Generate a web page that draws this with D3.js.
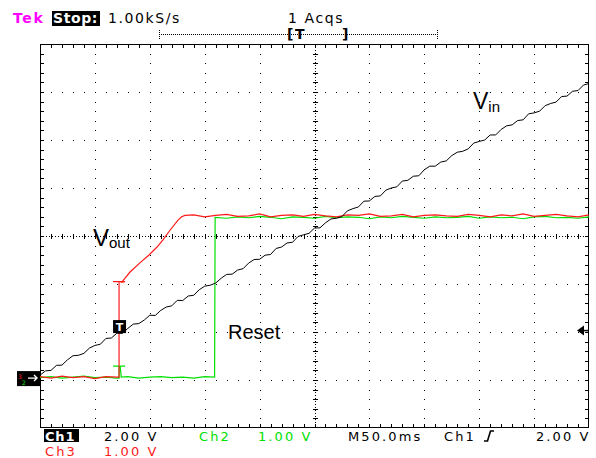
<!DOCTYPE html>
<html>
<head>
<meta charset="utf-8">
<script src="https://cdn.jsdelivr.net/npm/d3@7"></script>
<style>
  body { margin: 0; background: #fff; }
  svg { display: block; }
  .scr { font-family: "DejaVu Sans", sans-serif; font-size: 14px; letter-spacing: 1.6px; }
  .ftr { font-family: "DejaVu Sans", sans-serif; font-size: 13px; letter-spacing: 2.1px; }
  .lbl { font-family: "Liberation Sans", Arial, sans-serif; }
</style>
</head>
<body>
<svg width="596" height="458"></svg>
<script>
// time base: 50 ms/div, 10 div on screen, trigger ~72 ms from left
const timeSpanMs = 500;
const triggerMs = 72;

// Ch1 (Vin), 2.00 V/div, one sample every 5 ms
const vinStepMs = 5;
const vinVolts = [
  0.12, 0.30, 0.32, 0.53, 0.54, 0.76, 0.93, 0.95, 1.03, 1.25,
  1.36, 1.41, 1.65, 1.67, 1.87, 1.86, 2.07, 2.25, 2.27, 2.42,
  2.62, 2.61, 2.82, 2.96, 3.01, 3.24, 3.23, 3.42, 3.45, 3.68,
  3.83, 3.87, 3.96, 4.16, 4.32, 4.33, 4.50, 4.56, 4.79, 4.94,
  4.95, 5.12, 5.15, 5.40, 5.46, 5.63, 5.66, 5.90, 5.97, 6.03,
  6.25, 6.26, 6.47, 6.63, 6.66, 6.73, 6.97, 7.06, 7.13, 7.37,
  7.38, 7.57, 7.59, 7.83, 7.92, 7.97, 8.21, 8.24, 8.41, 8.43,
  8.68, 8.83, 8.83, 9.00, 9.05, 9.27, 9.41, 9.45, 9.55, 9.79,
  9.86, 9.92, 10.13, 10.13, 10.36, 10.51, 10.55, 10.73, 10.76, 11.01,
  11.05, 11.12, 11.35, 11.44, 11.50, 11.73, 11.75, 11.95, 11.98, 12.21,
  12.27
];

// Ch3 (Vout), 1.00 V/div, [ms, V]
const voutPoints = [
  [0, 0.03], [10, 0.00], [20, 0.04], [30, 0.01], [40, 0.03], [50, -0.01], [60, 0.03],
  [70, 0.02], [72, 0.02], [72, 2.01], [66.5, 2.01], [77.5, 2.01], [74.5, 2.0],
  [82, 2.21], [91, 2.40], [99, 2.56], [106.6, 2.73], [112, 2.88], [118.4, 3.08],
  [125.7, 3.29], [129, 3.36], [132, 3.39],
  [140, 3.40], [150, 3.36], [160, 3.39], [170, 3.41], [180, 3.37], [190, 3.38],
  [200, 3.42], [210, 3.36], [220, 3.39], [230, 3.40], [240, 3.37], [250, 3.41],
  [260, 3.38], [270, 3.36], [280, 3.40], [290, 3.39], [300, 3.42], [310, 3.37],
  [320, 3.38], [330, 3.41], [340, 3.36], [350, 3.39], [360, 3.40], [370, 3.38],
  [380, 3.37], [390, 3.41], [400, 3.39], [410, 3.36], [420, 3.40], [430, 3.38],
  [440, 3.42], [450, 3.37], [460, 3.39], [470, 3.41], [480, 3.38], [490, 3.36],
  [500, 3.40]
];

// Ch2 (Reset), 1.00 V/div, [ms, V]
const resetPoints = [
  [0, 0.01], [10, 0.03], [20, 0.00], [30, 0.02], [40, 0.04], [50, 0.01], [60, 0.02],
  [70, 0.00], [72, 0.00], [72, 0.25], [66.5, 0.25], [77.5, 0.25], [73, 0.25], [74, 0.02],
  [80, 0.03], [90, 0.00], [100, 0.02], [110, 0.03], [120, 0.01], [130, 0.02],
  [140, 0.00], [150, 0.03], [159, 0.02], [159.5, 3.35],
  [170, 3.33], [180, 3.36], [190, 3.34], [200, 3.37], [210, 3.35], [220, 3.32],
  [230, 3.36], [240, 3.35], [250, 3.33], [260, 3.37], [270, 3.34], [280, 3.36],
  [290, 3.35], [300, 3.32], [310, 3.36], [320, 3.34], [330, 3.37], [340, 3.35],
  [350, 3.33], [360, 3.36], [370, 3.34], [380, 3.35], [390, 3.37], [400, 3.33],
  [410, 3.36], [420, 3.34], [430, 3.35], [440, 3.32], [450, 3.36], [460, 3.37],
  [470, 3.34], [480, 3.35], [490, 3.33], [500, 3.36]
];

const channels = {
  ch1: { voltsPerDiv: 2, offsetDiv: -2.96, color: "#000000" },
  ch2: { voltsPerDiv: 1, offsetDiv: -2.96, color: "#00e000" },
  ch3: { voltsPerDiv: 1, offsetDiv: -2.96, color: "#ff1a1a" }
};
const triggerLevelV = 2.0;

const svg = d3.select("svg");
const gL = 40, gR = 589, gT = 44, gB = 428;

const x = d3.scaleLinear().domain([0, timeSpanMs]).range([gL, gR]);
const xDiv = d3.scaleLinear().domain([0, 10]).range([gL, gR]);
const yDiv = d3.scaleLinear().domain([-4, 4]).range([gB, gT]);
const yFor = (ch) => (v) => yDiv(channels[ch].offsetDiv + v / channels[ch].voltsPerDiv);

// graticule
const grid = svg.append("g").attr("fill", "#000");
for (let k = 1; k < 10; k++) {
  if (k === 5) continue;
  const gx = Math.round(xDiv(k));
  grid.selectAll(null).data(d3.range(1, 40)).enter().append("rect")
    .attr("x", gx).attr("y", (d) => Math.round(yDiv(-4 + d / 5)))
    .attr("width", 1).attr("height", 1);
}
for (let j = 1; j < 8; j++) {
  if (j === 4) continue;
  const gy = Math.round(yDiv(-4 + j));
  grid.selectAll(null).data(d3.range(1, 50)).enter().append("rect")
    .attr("x", (d) => Math.round(xDiv(d / 5))).attr("y", gy)
    .attr("width", 1).attr("height", 1);
}
// center cross
const cx = Math.round(xDiv(5)), cy = Math.round(yDiv(0));
svg.append("line").attr("x1", cx + 0.5).attr("x2", cx + 0.5).attr("y1", gT).attr("y2", gB)
  .attr("stroke", "#000").attr("stroke-dasharray", "1,2");
svg.append("line").attr("y1", cy + 0.5).attr("y2", cy + 0.5).attr("x1", gL).attr("x2", gR)
  .attr("stroke", "#000").attr("stroke-dasharray", "1,2");
grid.selectAll(null).data(d3.range(1, 40)).enter().append("rect")
  .attr("x", cx - 2).attr("y", (d) => Math.round(yDiv(-4 + d / 5)))
  .attr("width", 5).attr("height", 1);
grid.selectAll(null).data(d3.range(1, 50)).enter().append("rect")
  .attr("y", cy - 2).attr("x", (d) => Math.round(xDiv(d / 5)))
  .attr("width", 1).attr("height", 5);

// border with inner ticks
svg.append("rect").attr("x", gL + 0.5).attr("y", gT + 0.5)
  .attr("width", gR - gL - 1).attr("height", gB - gT - 1)
  .attr("fill", "none").attr("stroke", "#000");
d3.range(1, 50).forEach((d) => {
  const tx = Math.round(xDiv(d / 5));
  grid.append("rect").attr("x", tx).attr("y", gT).attr("width", 1).attr("height", 4);
  grid.append("rect").attr("x", tx).attr("y", gB - 4).attr("width", 1).attr("height", 4);
});
d3.range(1, 40).forEach((d) => {
  const ty = Math.round(yDiv(-4 + d / 5));
  grid.append("rect").attr("x", gL).attr("y", ty).attr("width", 4).attr("height", 1);
  grid.append("rect").attr("x", gR - 4).attr("y", ty).attr("width", 4).attr("height", 1);
});

// traces
const line = (ch) => d3.line().x((d) => x(d[0])).y((d) => yFor(ch)(d[1]));
svg.append("path").datum(resetPoints).attr("d", line("ch2"))
  .attr("fill", "none").attr("stroke", channels.ch2.color).attr("stroke-width", 1.2);
svg.append("path").datum(voutPoints).attr("d", line("ch3"))
  .attr("fill", "none").attr("stroke", channels.ch3.color).attr("stroke-width", 1.2);
svg.append("path").datum(vinVolts.map((v, i) => [i * vinStepMs, v])).attr("d", line("ch1"))
  .attr("fill", "none").attr("stroke", channels.ch1.color).attr("stroke-width", 1);

// trigger position marker
const tpx = x(triggerMs), tpy = yFor("ch1")(triggerLevelV) - 4;
svg.append("rect").attr("x", tpx - 6).attr("y", tpy - 6).attr("width", 13).attr("height", 13).attr("fill", "#000");
svg.append("text").attr("x", tpx + 0.5).attr("y", tpy + 5).attr("text-anchor", "middle")
  .attr("fill", "#fff").attr("font-family", "DejaVu Sans").attr("font-weight", "bold").attr("font-size", 11).text("T");

// trigger level arrow on the right
const tly = yFor("ch1")(triggerLevelV) + 0.5;
svg.append("path").attr("d", `M${gR - 12},${tly} L${gR - 5},${tly - 5} L${gR - 5},${tly + 5} Z`).attr("fill", "#000");
svg.append("line").attr("x1", gR - 6).attr("x2", gR).attr("y1", tly).attr("y2", tly).attr("stroke", "#000").attr("stroke-width", 1.5);

// ground markers
const gy0 = yFor("ch1")(0);
svg.append("rect").attr("x", 17).attr("y", gy0 - 7).attr("width", 23).attr("height", 15).attr("fill", "#000");
svg.append("text").attr("x", 18).attr("y", gy0 + 1).attr("font-family", "DejaVu Sans").attr("font-size", 6)
  .attr("fill", channels.ch3.color).text("3");
svg.append("text").attr("x", 22).attr("y", gy0 + 7).attr("font-family", "DejaVu Sans").attr("font-size", 6)
  .attr("fill", channels.ch2.color).text("2");
svg.append("path").attr("d", `M28,${gy0} L37,${gy0} M34,${gy0 - 3} L37,${gy0} L34,${gy0 + 3}`)
  .attr("stroke", "#fff").attr("stroke-width", 1.4).attr("fill", "none");

// header
const hdr = svg.append("g").attr("class", "scr");
hdr.append("text").attr("x", 13).attr("y", 23).attr("fill", "#ff00ff").attr("font-weight", "bold").text("Tek");
hdr.append("rect").attr("x", 52).attr("y", 11).attr("width", 48).attr("height", 15).attr("fill", "#000");
hdr.append("text").attr("x", 53).attr("y", 23).attr("fill", "#fff").attr("font-weight", "bold")
  .attr("letter-spacing", 0.6).text("Stop:");
hdr.append("text").attr("x", 108).attr("y", 23).text("1.00kS/s");
hdr.append("text").attr("x", 288).attr("y", 23).text("1 Acqs");
// record view bar
svg.append("line").attr("x1", 159).attr("x2", 437).attr("y1", 34.5).attr("y2", 34.5)
  .attr("stroke", "#000").attr("stroke-dasharray", "1,1");
[159, 437].forEach((bx) => svg.append("line").attr("x1", bx + 0.5).attr("x2", bx + 0.5)
  .attr("y1", 30).attr("y2", 40).attr("stroke", "#000").attr("stroke-dasharray", "1,1"));
svg.append("text").attr("class", "scr").attr("x", 287).attr("y", 39).attr("font-weight", "bold")
  .attr("letter-spacing", 0).text("[T");
svg.append("text").attr("class", "scr").attr("x", 342).attr("y", 39).attr("font-weight", "bold")
  .attr("letter-spacing", 0).text("]");

// footer
const ftr = svg.append("g").attr("class", "ftr");
ftr.append("rect").attr("x", 44).attr("y", 429).attr("width", 35).attr("height", 13).attr("fill", "#000");
ftr.append("text").attr("x", 45).attr("y", 441).attr("fill", "#fff").attr("font-weight", "bold").attr("letter-spacing", 0.8).text("Ch1");
ftr.append("text").attr("x", 104).attr("y", 441).text("2.00 V");
ftr.append("text").attr("x", 199).attr("y", 441).attr("fill", channels.ch2.color).text("Ch2");
ftr.append("text").attr("x", 258).attr("y", 441).attr("fill", channels.ch2.color).text("1.00 V");
ftr.append("text").attr("x", 348).attr("y", 441).text("M50.0ms");
ftr.append("text").attr("x", 444).attr("y", 441).text("Ch1");
svg.append("path").attr("d", "M484,441 L487.5,441 L490.5,431 L494,431").attr("fill", "none")
  .attr("stroke", "#000").attr("stroke-width", 1.6);
ftr.append("text").attr("x", 536).attr("y", 441).text("2.00 V");
ftr.append("text").attr("x", 45).attr("y", 456).attr("fill", channels.ch3.color).text("Ch3");
ftr.append("text").attr("x", 104).attr("y", 456).attr("fill", channels.ch3.color).text("1.00 V");

// annotations
const vo = svg.append("text").attr("class", "lbl").attr("x", 93).attr("y", 246).attr("font-size", 24);
vo.append("tspan").text("V");
vo.append("tspan").attr("font-size", 15).attr("dy", 2).text("out");
const vi = svg.append("text").attr("class", "lbl").attr("x", 473).attr("y", 109).attr("font-size", 23);
vi.append("tspan").text("V");
vi.append("tspan").attr("font-size", 15).attr("dy", 3).text("in");
svg.append("text").attr("class", "lbl").attr("x", 228).attr("y", 339).attr("font-size", 20).text("Reset");
</script>
</body>
</html>
